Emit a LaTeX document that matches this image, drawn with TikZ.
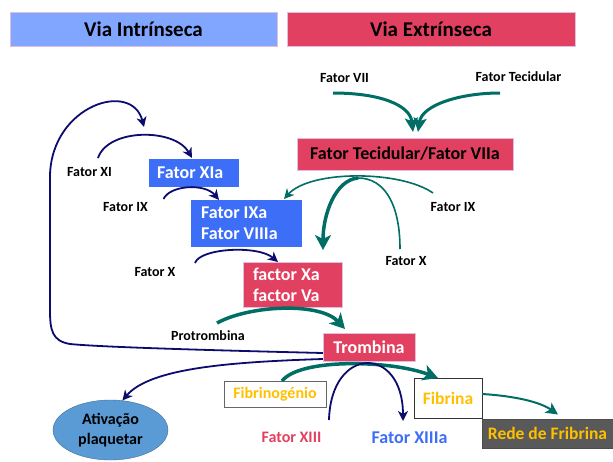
\documentclass[tikz,border=0pt]{standalone}
\usepackage{fontspec}
\setmainfont{Carlito}
\usetikzlibrary{arrows.meta,shapes.geometric}
\definecolor{intblue}{RGB}{128,166,255}
\definecolor{extred}{RGB}{226,64,96}
\definecolor{factblue}{RGB}{61,110,247}
\definecolor{navyline}{RGB}{12,12,110}
\definecolor{tealline}{RGB}{0,110,100}
\definecolor{fibyellow}{RGB}{255,192,0}
\definecolor{plaqblue}{RGB}{91,155,213}
\definecolor{redegray}{RGB}{89,89,89}
\tikzstyle{headbox} = [rectangle, draw=violet!25, thin, minimum height=34pt, font=\fontsize{21}{24}\selectfont\bfseries]
\tikzstyle{redbox} = [rectangle, fill=extred, draw=violet!25, thin, font=\fontsize{18}{21}\selectfont\bfseries, text=white]
\tikzstyle{bluebox} = [rectangle, fill=factblue, align=flush left, font=\fontsize{18}{21}\selectfont\bfseries, text=white]
\tikzstyle{label} = [inner sep=1pt, font=\fontsize{14}{16}\selectfont\bfseries]
\tikzstyle{navyarr} = [draw=navyline, line width=1.8pt, -{Stealth[length=10pt,width=10pt,inset=3pt]}]
\tikzstyle{tealthin} = [draw=tealline, line width=1.6pt]
\tikzstyle{tealthick} = [draw=tealline, line width=3.5pt, -{Stealth[length=15pt,width=16pt,inset=4pt]}]

\begin{document}
\begin{tikzpicture}[x=1pt, y=-1pt]
\useasboundingbox (0,0) rectangle (613,461);
\node [headbox, fill=intblue, minimum width=267pt] (intr) at (143.5,29) {Via Intrínseca};
\node [headbox, fill=extred, minimum width=288pt] (extr) at (431,29) {Via Extrínseca};

\node [label] (fvii) at (344.5,78) {Fator VII};
\node [label] (ft) at (518.5,77) {Fator Tecidular};
\node [redbox, text=black, minimum width=216pt, minimum height=32pt] (ftvii) at (405,154) {Fator Tecidular/Fator VIIa};
\node [label] (fix2) at (453,207) {Fator IX};
\node [label] (fx2) at (406,261) {Fator X};

\node [label] (fxi) at (89.5,172) {Fator XI};
\node [bluebox, text width=74pt, inner xsep=8pt, minimum height=28pt] (fxia) at (194,173) {Fator XIa};
\node [label] (fix) at (125.5,207) {Fator IX};
\node [bluebox, text width=91pt, inner xsep=10pt, minimum height=47pt] (fixa) at (246.5,223.5) {Fator IXa\\Fator VIIIa};
\node [label] (fx) at (155,272) {Fator X};
\node [redbox, text width=79pt, inner xsep=10pt, minimum height=45pt, align=flush left] (fxa) at (292.5,284.5) {factor Xa\\factor Va};
\node [label] (protro) at (208,336) {Protrombina};
\node [redbox, minimum width=92pt, minimum height=28pt] (tromb) at (369,347) {Trombina};

\node [ellipse, fill=plaqblue, draw=plaqblue!70!black, thin, minimum width=115pt, minimum height=60pt, inner sep=0pt, align=center, font=\fontsize{16}{20}\selectfont\bfseries] (plaq) at (110.5,430) {Ativação\\plaquetar};
\node [rectangle, draw=gray!80!black, fill=white, thin, minimum width=102pt, minimum height=26pt, text=fibyellow, font=\fontsize{16}{19}\selectfont\bfseries] (fbgn) at (275,394) {Fibrinogénio};
\node [rectangle, draw=black!80, fill=white, thin, minimum width=68pt, minimum height=40pt, text=fibyellow, font=\fontsize{17.5}{20}\selectfont\bfseries] (fbrn) at (448,398) {Fibrina};
\node [label, text=extred, font=\fontsize{16}{19}\selectfont\bfseries] (fxiii) at (291.5,437) {Fator XIII};
\node [label, text=factblue, font=\fontsize{18}{21}\selectfont\bfseries] (fxiiia) at (409.5,438) {Fator XIIIa};
\node [rectangle, fill=redegray, draw=black!70, thin, minimum width=131pt, minimum height=29pt, text=fibyellow, font=\fontsize{17.5}{20}\selectfont\bfseries] (rede) at (547.5,433.5) {Rede de Fribrina};

\coordinate (apex) at (358,178);
\coordinate (fbk) at (144,127);

\draw [tealthick, line width=3pt, -{Stealth[length=14pt,width=13pt,inset=3pt]}] ([xshift=-11.5pt,yshift=-15pt]fvii.center) .. controls (380,93) and (410,105) .. ([xshift=8pt,yshift=22pt]ftvii.center);
\draw [tealthick, line width=3pt, -{Stealth[length=14pt,width=13pt,inset=3pt]}] ([xshift=-18.5pt,yshift=-16pt]ft.center) .. controls (460,93) and (422,105) .. ([xshift=13pt,yshift=22pt]ftvii.center);
\draw [tealthin, -{Stealth[length=10pt,width=10pt,inset=3pt]}] ([xshift=-20pt,yshift=14pt]fix2.center) .. controls (400,170) and (310,170) .. ([xshift=37.5pt,yshift=24.5pt]fixa.center);
\draw [tealthin] ([xshift=-6pt,yshift=12pt]fx2.center) .. controls (400,205) and (385,178) .. (apex);
\draw [tealthick] (apex) .. controls (335,180) and (323,215) .. ([xshift=30.5pt,yshift=34.5pt]fxa.center);

\draw [navyarr] ([xshift=8.5pt,yshift=14pt]fxi.center) .. controls (108,128) and (175,128) .. ([xshift=-2pt,yshift=15pt]fxia.center);
\draw [navyarr] ([xshift=38pt,yshift=8pt]fix.center) .. controls (170,185) and (205,183) .. ([xshift=-27.5pt,yshift=23.5pt]fixa.center);
\draw [navyarr] ([xshift=40pt,yshift=9pt]fx.center) .. controls (200,248) and (258,245) .. ([xshift=-14.5pt,yshift=22.5pt]fxa.center);
\draw [tealthick] ([xshift=9pt,yshift=13pt]protro.center) .. controls (250,305) and (320,302) .. ([xshift=-24pt,yshift=18pt]tromb.center);

\draw [navyarr] ([yshift=-6pt]tromb.west) .. controls (200,350) and (100,347) .. (70,344) .. controls (52,341) and (50,330) .. (50,310) -- (50,175) .. controls (52,105) and (132,80) .. (fbk);
\draw [navyarr] ([yshift=-12pt]tromb.west) .. controls (230,362) and (150,368) .. (plaq.68);

\draw [tealthick] ([xshift=7pt,yshift=13pt]fbgn.center) .. controls (300,358) and (390,360) .. ([xshift=-10pt,yshift=20pt]fbrn.center);
\draw [navyarr] ([xshift=37.5pt,yshift=17pt]fxiii.center) .. controls (331,345) and (403,345) .. ([xshift=-6.5pt,yshift=17pt]fxiiia.center);
\draw [tealthin, line width=2pt, -{Stealth[length=12pt,width=12pt,inset=3pt]}] ([yshift=4pt]fbrn.east) .. controls (515,396) and (540,402) .. ([xshift=10.5pt,yshift=19pt]rede.center);
\end{tikzpicture}
\end{document}
